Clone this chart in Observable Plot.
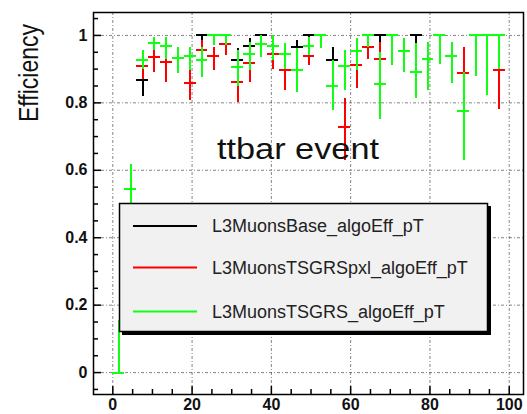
<!DOCTYPE html>
<html><head><meta charset="utf-8">
<script src="https://cdn.jsdelivr.net/npm/d3@7"></script>
<script src="https://cdn.jsdelivr.net/npm/@observablehq/plot@0.6"></script>
<style>
body{margin:0;background:#fff}
#chart svg{display:block;overflow:visible}
</style>
</head><body><div id="chart"></div>
<script>
// bin centres (pT) and half bin width
const bins = [1.5,4.5,7.5,10.5,13.5,16.5,19.5,22.5,25.5,28.5,31.5,34.5,37.5,40.5,43.5,46.5,49.5,52.5,55.5,58.5,61.5,64.5,67.5,70.5,73.5,76.5,79.5,82.5,85.5,88.5,91.5,94.5,97.5];
const binHalf = 1.5;
const seriesNames = ["L3MuonsBase_algoEff_pT","L3MuonsTSGRSpxl_algoEff_pT","L3MuonsTSGRS_algoEff_pT"];
const seriesColors = ["#000000","#ff0000","#11ff11"];

// L3MuonsTSGRS (green)
const grsVal = [0.0,0.545,0.927,0.977,0.97,0.934,0.94,0.926,1.0,1.0,0.906,0.946,0.975,0.97,0.946,0.896,0.97,1.0,0.851,0.908,0.955,1.0,0.857,1.0,0.953,0.893,0.93,1.0,0.939,0.777,1.0,1.0,1.0];
const grsLo  = [0.0,0.47,0.90,0.955,0.93,0.886,0.896,0.876,0.97,0.97,0.85,0.896,0.935,0.926,0.90,0.832,0.94,0.96,0.777,0.837,0.896,0.965,0.75,0.91,0.891,0.812,0.837,0.913,0.856,0.629,0.879,0.822,0.90];
const grsHi  = [0.155,0.617,0.955,0.995,0.995,0.965,0.965,0.965,1.0,1.0,0.955,0.98,1.0,1.0,0.975,0.96,0.995,1.0,0.926,0.955,0.99,1.0,0.95,1.0,0.99,0.975,0.98,1.0,0.98,0.891,1.0,1.0,1.0];

// L3MuonsTSGRSpxl (red)
const pxlVal = [0.0,0.545,0.908,0.936,0.921,0.934,0.86,0.958,0.938,0.975,0.861,0.918,0.975,0.946,0.896,0.896,0.94,1.0,0.851,0.728,0.911,0.965,0.93,1.0,0.953,0.893,0.93,1.0,0.939,0.888,1.0,1.0,0.898];
const pxlLo  = [0.0,0.47,0.87,0.89,0.861,0.886,0.808,0.92,0.896,0.94,0.802,0.861,0.935,0.90,0.837,0.832,0.911,0.96,0.777,0.629,0.842,0.93,0.837,0.91,0.891,0.812,0.837,0.913,0.856,0.76,0.879,0.822,0.78];
const pxlHi  = [0.155,0.617,0.935,0.961,0.955,0.965,0.906,0.985,0.965,0.993,0.906,0.946,1.0,0.975,0.935,0.96,0.965,1.0,0.926,0.812,0.955,1.0,0.98,1.0,0.99,0.975,0.98,1.0,0.98,0.965,1.0,1.0,0.975];

// L3MuonsBase (black)
const baseVal = [0.0,0.545,0.868,0.977,0.97,0.934,0.94,1.0,1.0,1.0,0.928,0.97,1.0,0.97,0.946,0.965,1.0,1.0,0.928,0.908,0.955,1.0,1.0,1.0,0.953,1.0,0.93,1.0,0.939,0.777,1.0,1.0,1.0];
const baseLo  = [0.0,0.47,0.82,0.955,0.93,0.886,0.896,0.97,0.97,0.97,0.88,0.94,0.975,0.926,0.90,0.93,0.975,0.96,0.87,0.837,0.896,0.965,0.96,0.91,0.891,0.945,0.837,0.913,0.856,0.629,0.879,0.822,0.90];
const baseHi  = [0.155,0.617,0.885,0.995,0.995,0.965,0.965,1.0,1.0,1.0,0.96,0.99,1.0,1.0,0.975,0.985,1.0,1.0,0.965,0.955,0.99,1.0,1.0,1.0,0.99,1.0,0.98,1.0,0.98,0.891,1.0,1.0,1.0];

const xTicks = [0,20,40,60,80,100];
const xMinor = [5,10,15,25,30,35,45,50,55,65,70,75,85,90,95];
const yTicks = [0,0.2,0.4,0.6,0.8,1];
const yMinor = [-0.05,0.05,0.1,0.15,0.25,0.3,0.35,0.45,0.5,0.55,0.65,0.7,0.75,0.85,0.9,0.95,1.05];

const seriesData = [[baseVal,baseLo,baseHi],[pxlVal,pxlLo,pxlHi],[grsVal,grsLo,grsHi]];
const rows = seriesData.map(([v,lo,hi],s) => bins.map((x,i) => ({series: seriesNames[s], x, v: v[i], lo: lo[i], hi: hi[i]})));

const W = 527, H = 414, mL = 93, mR = 4, mT = 12, mB = 20;
const fw = W - mL - mR, fh = H - mT - mB;
const grid = {stroke:"#444", strokeOpacity:0.65, strokeDasharray:"3,2,1,2", strokeWidth:1};

const errMarks = rows.flatMap((r,s) => [
  Plot.ruleX(r, {x:"x", y1:"lo", y2:"hi", stroke: seriesColors[s], strokeWidth:2, shapeRendering: "crispEdges"}),
  Plot.ruleY(r, {y:"v", x1: d => d.x - binHalf, x2: d => d.x + binHalf, stroke: seriesColors[s], strokeWidth:2, shapeRendering: "crispEdges"})
]);

const chart = Plot.plot({
  width: W, height: H,
  marginLeft: mL, marginRight: mR, marginTop: mT, marginBottom: mB,
  style: {fontFamily: "'Liberation Sans', Arial, Helvetica, sans-serif", background: "white", overflow: "visible"},
  x: {domain: [-4.87, 103.6]},
  y: {domain: [-0.065, 1.068]},
  marks: [
    Plot.gridX(xTicks, grid),
    Plot.gridY(yTicks, grid),
    ...errMarks,
    Plot.tickX(xTicks, {x: d => d, insetTop: fh - 8, stroke: "black", strokeWidth: 1.5}),
    Plot.tickX(xMinor, {x: d => d, insetTop: fh - 5, stroke: "black", strokeWidth: 1.5}),
    Plot.tickY(yTicks, {y: d => d, insetRight: fw - 8, stroke: "black", strokeWidth: 1.5}),
    Plot.tickY(yMinor, {y: d => d, insetRight: fw - 5, stroke: "black", strokeWidth: 1.5}),
    Plot.axisX(xTicks, {tickSize: 0, tickPadding: 4, fontSize: 16, fontWeight: "bold", fill: "#111", label: null}),
    Plot.axisY(yTicks, {tickSize: 0, tickPadding: 6, fontSize: 16, fontWeight: "bold", fill: "#111", tickFormat: d => String(d), label: null}),
    Plot.frame({stroke: "black", strokeWidth: 1.5})
  ]
});

const svg = d3.select(chart);
// y-axis title
svg.append("text")
  .attr("transform", "translate(38,73) rotate(-90)")
  .attr("text-anchor", "middle")
  .attr("font-size", 28)
  .attr("textLength", 98).attr("lengthAdjust", "spacingAndGlyphs")
  .attr("fill", "#111")
  .text("Efficiency");
// annotation
svg.append("text")
  .attr("x", 298).attr("y", 159)
  .attr("text-anchor", "middle")
  .attr("font-size", 30)
  .attr("textLength", 162).attr("lengthAdjust", "spacingAndGlyphs")
  .attr("fill", "#111")
  .text("ttbar event");
// legend
const lg = svg.append("g");
lg.append("rect").attr("x", 122).attr("y", 206).attr("width", 369).attr("height", 129).attr("fill", "black");
lg.append("rect").attr("x", 119.5).attr("y", 203.5).attr("width", 368).attr("height", 128)
  .attr("fill", "#f1f1f1").attr("stroke", "black").attr("stroke-width", 1.5);
const rowY = [226, 267.5, 311.5];
seriesNames.forEach((name, i) => {
  lg.append("line").attr("x1", 133).attr("x2", 197).attr("y1", rowY[i]).attr("y2", rowY[i])
    .attr("stroke", seriesColors[i]).attr("stroke-width", 2);
  lg.append("text").attr("x", 212).attr("y", rowY[i] + 6)
    .attr("text-anchor", "start")
    .attr("font-size", 18).attr("fill", "#222")
    .text(name);
});

document.getElementById("chart").appendChild(chart);
</script>
</body></html>
